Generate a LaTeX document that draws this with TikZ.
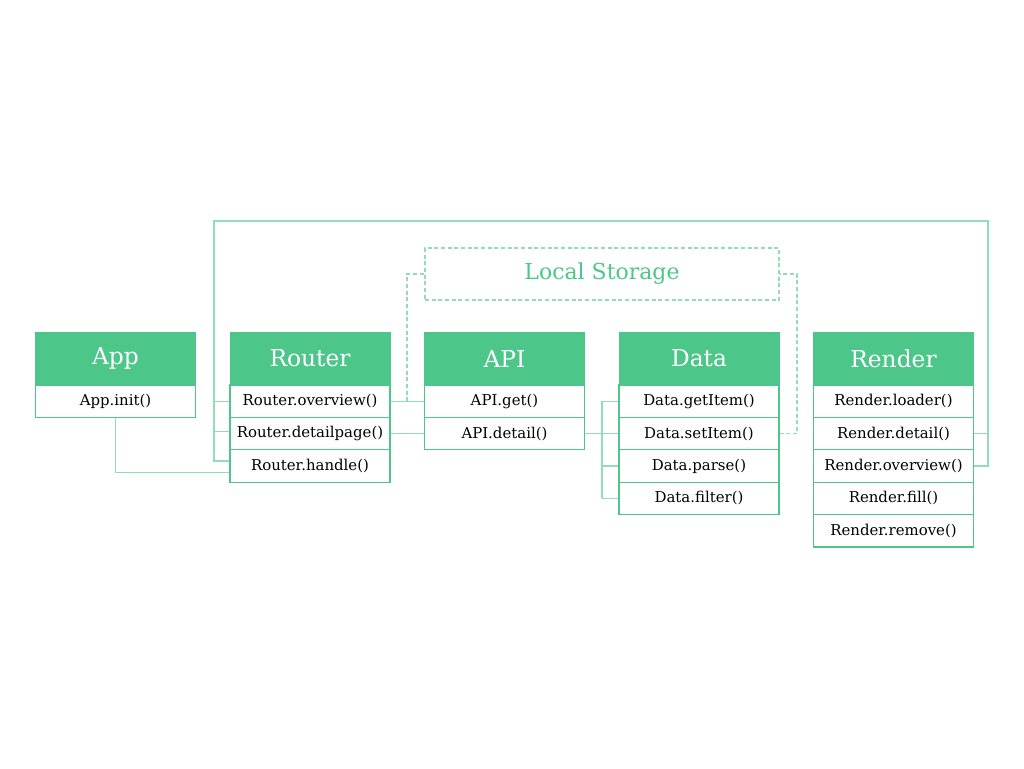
\documentclass[tikz,border=0pt]{standalone}
\usepackage{fontspec}
\setmainfont{DejaVu Serif}
\definecolor{mint}{HTML}{4CC789}
\definecolor{wirec}{HTML}{92DDB7}
\begin{document}
\begin{tikzpicture}[x=0.75pt,y=-0.75pt]
\tikzstyle{every node}+=[inner sep=0pt]
\tikzstyle{head}=[fill=mint,draw=mint,text=white,minimum width=120pt,minimum height=39.75pt,font=\fontsize{17.5}{20}\selectfont]
\tikzstyle{row}=[draw=mint,fill=white,minimum width=120pt,minimum height=24.3pt,line width=0.8pt,font=\fontsize{11.2}{13}\selectfont]
\tikzstyle{wire}=[wirec,line width=1pt]
\tikzstyle{dwire}=[wirec,line width=1pt,dash pattern=on 3pt off 2pt]
\useasboundingbox (0,0) rectangle (1024,768);
\node [draw=wirec,dash pattern=on 3pt off 2pt,line width=1pt,minimum width=265.5pt,minimum height=39pt,text=mint,font=\fontsize{16.5}{19}\selectfont] (store) at (602,274) {Local Storage};
\node [head] (app) at (115.5,358.5) {App};
\node [row] (ai) at (115.5,401.2) {App.init()};
\node [head] (router) at (310,358.5) {Router};
\node [row] (ro) at (310,401.2) {Router.overview()};
\node [row] (rd) at (310,433.6) {Router.detailpage()};
\node [row] (rh) at (310,466) {Router.handle()};
\node [head] (api) at (504.5,358.5) {API};
\node [row] (ag) at (504.5,401.2) {API.get()};
\node [row] (ad) at (504.5,433.6) {API.detail()};
\node [head] (data) at (699,358.5) {Data};
\node [row] (dg) at (699,401.2) {Data.getItem()};
\node [row] (ds) at (699,433.6) {Data.setItem()};
\node [row] (dp) at (699,466) {Data.parse()};
\node [row] (df) at (699,498.4) {Data.filter()};
\node [head] (render) at (893.5,358.5) {Render};
\node [row] (nl) at (893.5,401.2) {Render.loader()};
\node [row] (nd) at (893.5,433.6) {Render.detail()};
\node [row] (no) at (893.5,466) {Render.overview()};
\node [row] (nf) at (893.5,498.4) {Render.fill()};
\node [row] (nr) at (893.5,530.8) {Render.remove()};
\coordinate (topL) at (214,221);
\coordinate (topR) at (988,221);
\coordinate (bus) at (602,401.2);
\coordinate (dashL) at (407,274);
\coordinate (dashR) at (797,274);
\draw [wire] (ai.south) |- ([yshift=-5pt]rh.west);
\draw [wire] (no.east) -| (topR) -- (topL) |- ([yshift=3.75pt]rh.west);
\draw [wire] (nd.east) -- (nd.east -| topR);
\draw [wire] (ro.west) -- (ro.west -| topL);
\draw [wire] ([yshift=1.5pt]rd.west) -- ([yshift=1.5pt]rd.west -| topL);
\draw [wire] (ro.east) -- (ag.west);
\draw [wire] (rd.east) -- (ad.west);
\draw [wire] (ad.east) -- (ds.west);
\draw [wire] (bus) -- (df.west -| bus);
\draw [wire] (bus) -- (dg.west);
\draw [wire] (dp.west -| bus) -- (dp.west);
\draw [wire] (df.west -| bus) -- (df.west);
\draw [dwire] (ro.east -| dashL) -- (dashL) -- (store.west);
\draw [dwire] (ds.east) -| (dashR) -- (store.east);
\end{tikzpicture}
\end{document}
